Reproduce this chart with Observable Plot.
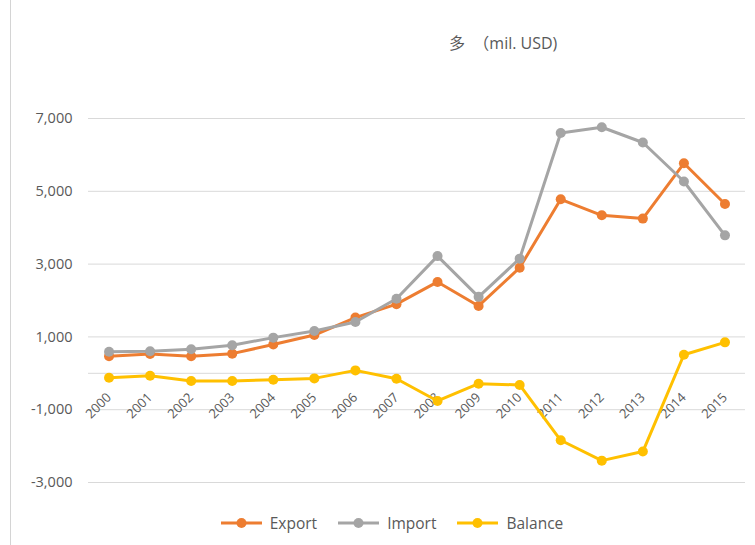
<!DOCTYPE html>
<html>
<head>
<meta charset="utf-8">
<script src="https://cdn.jsdelivr.net/npm/d3@7"></script>
<script src="https://cdn.jsdelivr.net/npm/@observablehq/plot@0.6"></script>
<style>
  html, body { margin: 0; padding: 0; background: #fff; }
  #wrap { position: relative; width: 755px; height: 545px; overflow: hidden; font-family: "Open Sans", "Noto Sans CJK SC", sans-serif; color: #595959; }
  #frame { position: absolute; left: 10px; top: 0; width: 1px; height: 545px; background: #d4d4d4; }
  #title { height: 70px; position: relative; }
  #title span { position: absolute; left: 449px; top: 30px; font-size: 16px; color: #595959; font-family: "Open Sans", "Noto Sans CJK SC", sans-serif; white-space: pre; }
  #legend { display: flex; justify-content: center; align-items: center; height: 26px; font-size: 15.5px; padding-left: 28px; }
  #legend .item { display: flex; align-items: center; margin: 0 10px; }
  #legend svg { margin-right: 7px; }
</style>
</head>
<body>
<div id="wrap">
  <div id="frame"></div>
  <div id="title"><span>多  （mil. USD)</span></div>
  <div id="chart"></div>
  <div id="legend"></div>
</div>
<script>
const years = [2000, 2001, 2002, 2003, 2004, 2005, 2006, 2007, 2008, 2009, 2010, 2011, 2012, 2013, 2014, 2015];
const exportVals = [470, 530, 470, 540, 790, 1050, 1530, 1900, 2510, 1850, 2900, 4780, 4340, 4250, 5770, 4650];
const importVals = [590, 605, 660, 770, 980, 1160, 1410, 2050, 3220, 2100, 3150, 6600, 6760, 6340, 5270, 3790];
const balanceVals = [-120, -65, -210, -210, -175, -140, 80, -150, -760, -285, -320, -1840, -2400, -2150, 510, 850];
const seriesNames = ["Export", "Import", "Balance"];
const seriesColors = ["#ED7D31", "#A5A5A5", "#FFC000"];
const yTickVals = [-3000, -1000, 1000, 3000, 5000, 7000];
const gridVals = [-3000, -1000, 0, 1000, 3000, 5000, 7000];

const seriesVals = [exportVals, importVals, balanceVals];
const rows = [];
seriesNames.forEach((name, si) => {
  years.forEach((yr, i) => rows.push({series: name, year: yr, value: seriesVals[si][i]}));
});

const fmt = d => d3.format(",")(d).replace("\u2212", "-");

const marks = [
  Plot.ruleY(gridVals, {stroke: "#d9d9d9", strokeWidth: 1}),
  Plot.axisY({ticks: yTickVals, tickSize: 0, tickPadding: 16, tickFormat: fmt, fontSize: 14.5, fill: "#595959", label: null}),
  Plot.text(years, {x: d => d, y: () => 0, text: d => String(d), rotate: -45, textAnchor: "end", dx: 0, dy: 22, fontSize: 13, fill: "#595959"})
];
seriesNames.forEach((name, si) => {
  const data = rows.filter(r => r.series === name);
  marks.push(Plot.line(data, {x: "year", y: "value", stroke: seriesColors[si], strokeWidth: 3}));
  marks.push(Plot.dot(data, {x: "year", y: "value", fill: seriesColors[si], r: 5}));
});

const chart = Plot.plot({
  width: 755,
  height: 440,
  marginTop: 48,
  marginBottom: 28,
  marginLeft: 88,
  marginRight: 10,
  x: {domain: [1999.5, 2015.5], axis: null},
  y: {domain: [-3000, 7000], axis: null},
  style: {fontFamily: "'Open Sans', sans-serif", color: "#595959", background: "transparent", overflow: "visible"},
  marks
});
document.getElementById("chart").appendChild(chart);

const legend = document.getElementById("legend");
seriesNames.forEach((name, si) => {
  const item = document.createElement("div");
  item.className = "item";
  item.innerHTML = `<svg width="43" height="12"><line x1="1" y1="6" x2="42" y2="6" stroke="${seriesColors[si]}" stroke-width="3"/><circle cx="21.5" cy="6" r="5" fill="${seriesColors[si]}"/></svg><span>${name}</span>`;
  legend.appendChild(item);
});
</script>
</body>
</html>
